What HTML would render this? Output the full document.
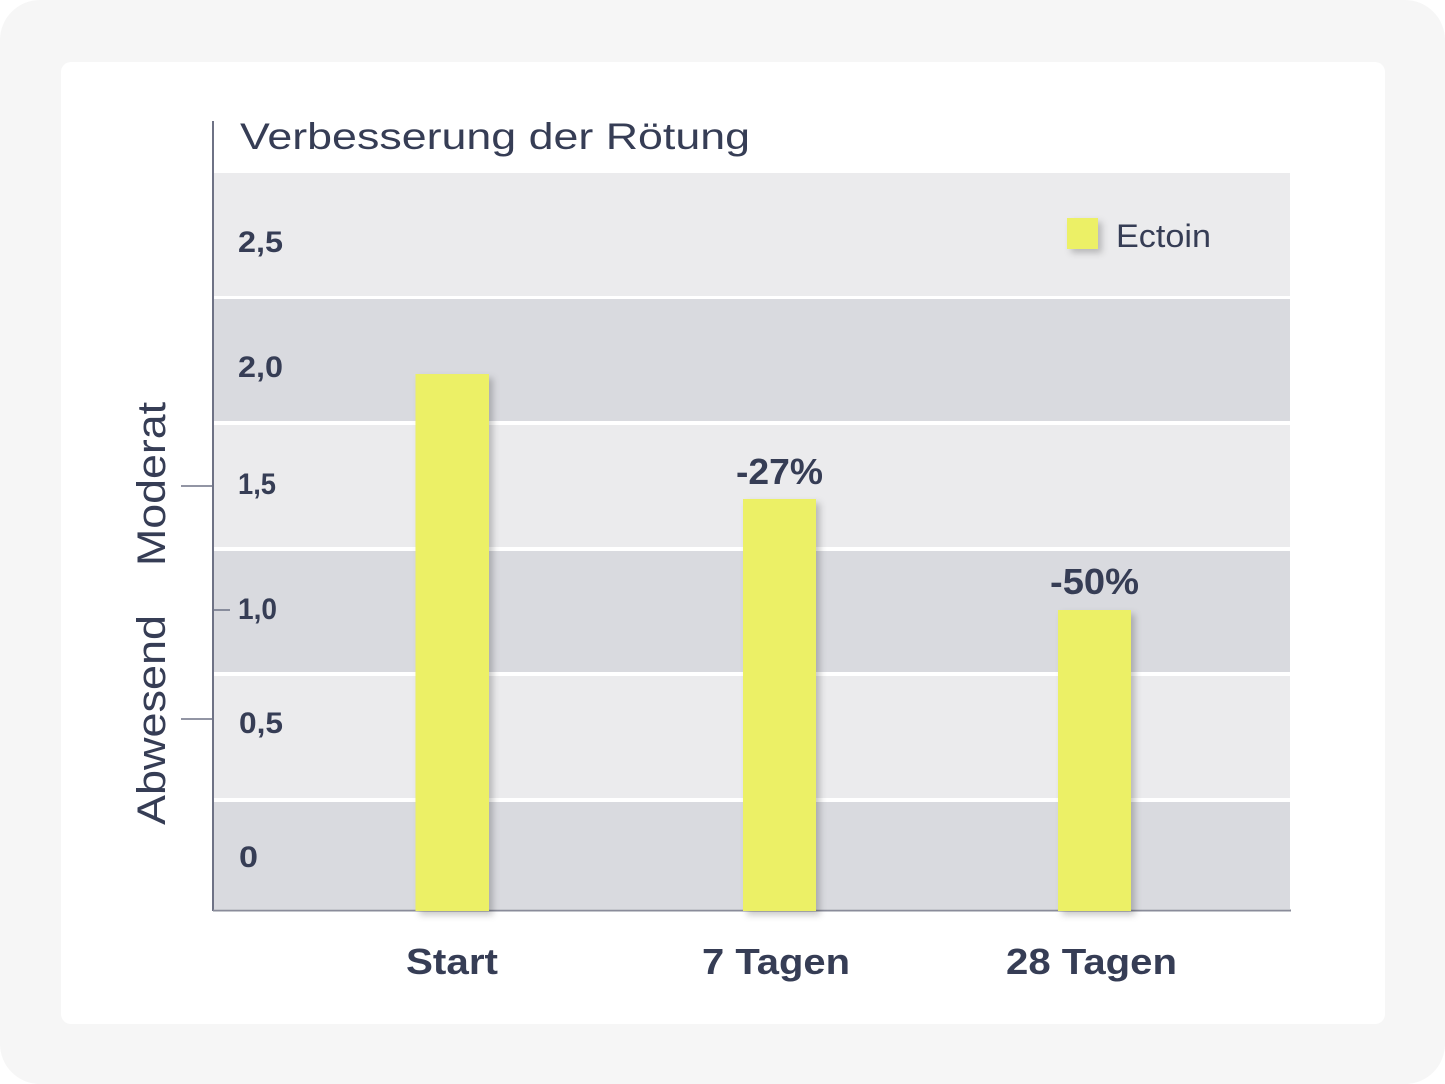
<!DOCTYPE html>
<html><head><meta charset="utf-8"><style>
html,body{margin:0;padding:0;background:#fff;}
body{width:1445px;height:1084px;overflow:hidden;position:relative;}
.outer{position:absolute;left:0;top:0;width:1445px;height:1084px;background:#f6f6f6;border-radius:40px;}
.card{position:absolute;left:61px;top:62px;width:1324px;height:962px;background:#fff;border-radius:10px;}
svg{position:absolute;left:0;top:0;}
text{font-family:"Liberation Sans",sans-serif;fill:#363d55;}
.b{font-weight:bold;}
</style></head><body>
<div class="outer"></div>
<div class="card"></div>
<svg width="1445" height="1084" viewBox="0 0 1445 1084">
<defs>
<filter id="sh" x="-30%" y="-10%" width="160%" height="130%">
<feDropShadow dx="4" dy="4" stdDeviation="3.5" flood-color="#000" flood-opacity="0.22"/>
</filter>
</defs>
<!-- bands -->
<rect x="214" y="173" width="1076" height="123" fill="#ebebed"/>
<rect x="214" y="299" width="1076" height="122" fill="#d9dadf"/>
<rect x="214" y="425" width="1076" height="122" fill="#ebebed"/>
<rect x="214" y="551" width="1076" height="121" fill="#d9dadf"/>
<rect x="214" y="676" width="1076" height="122" fill="#ebebed"/>
<rect x="214" y="802" width="1076" height="107" fill="#d9dadf"/>
<!-- axes -->
<line x1="213" y1="121" x2="213" y2="911" stroke="#6e7285" stroke-width="2"/>
<line x1="213" y1="910.5" x2="1291" y2="910.5" stroke="#8a8c9a" stroke-width="2"/>
<line x1="181" y1="486" x2="213" y2="486" stroke="#6e7285" stroke-width="1.5"/>
<line x1="213" y1="610" x2="230" y2="610" stroke="#6e7285" stroke-width="1.5"/>
<line x1="181" y1="719" x2="213" y2="719" stroke="#6e7285" stroke-width="1.5"/>
<!-- title -->
<text x="240" y="149" font-size="37" textLength="510" lengthAdjust="spacingAndGlyphs">Verbesserung der Rötung</text>
<!-- y labels -->
<text class="b" x="238" y="252" font-size="30" textLength="45" lengthAdjust="spacingAndGlyphs">2,5</text>
<text class="b" x="238" y="377" font-size="30" textLength="45" lengthAdjust="spacingAndGlyphs">2,0</text>
<text class="b" x="238" y="494" font-size="30" textLength="38" lengthAdjust="spacingAndGlyphs">1,5</text>
<text class="b" x="238" y="619" font-size="30" textLength="39" lengthAdjust="spacingAndGlyphs">1,0</text>
<text class="b" x="239" y="733" font-size="30" textLength="44" lengthAdjust="spacingAndGlyphs">0,5</text>
<text class="b" x="239" y="867" font-size="30" textLength="19" lengthAdjust="spacingAndGlyphs">0</text>
<!-- rotated axis labels -->
<text transform="translate(165,484) rotate(-90)" text-anchor="middle" font-size="40" textLength="164" lengthAdjust="spacingAndGlyphs">Moderat</text>
<text transform="translate(165,720) rotate(-90)" text-anchor="middle" font-size="40" textLength="210" lengthAdjust="spacingAndGlyphs">Abwesend</text>
<!-- bars -->
<g filter="url(#sh)">
<rect x="415.5" y="374" width="73.5" height="537" fill="#ecf066"/>
<rect x="743" y="499" width="73" height="412" fill="#ecf066"/>
<rect x="1058" y="610" width="73" height="301" fill="#ecf066"/>
<rect x="1067" y="218" width="31" height="31" fill="#ecf066"/>
</g>
<!-- bar value labels -->
<text class="b" x="736" y="484" font-size="36" textLength="87" lengthAdjust="spacingAndGlyphs">-27%</text>
<text class="b" x="1050" y="594" font-size="36" textLength="89" lengthAdjust="spacingAndGlyphs">-50%</text>
<!-- legend -->
<text x="1116" y="247" font-size="32" textLength="95" lengthAdjust="spacingAndGlyphs">Ectoin</text>
<!-- x labels -->
<text class="b" x="406" y="974" font-size="36" textLength="92" lengthAdjust="spacingAndGlyphs">Start</text>
<text class="b" x="702" y="974" font-size="36" textLength="148" lengthAdjust="spacingAndGlyphs">7 Tagen</text>
<text class="b" x="1006" y="974" font-size="36" textLength="171" lengthAdjust="spacingAndGlyphs">28 Tagen</text>
</svg>
</body></html>
